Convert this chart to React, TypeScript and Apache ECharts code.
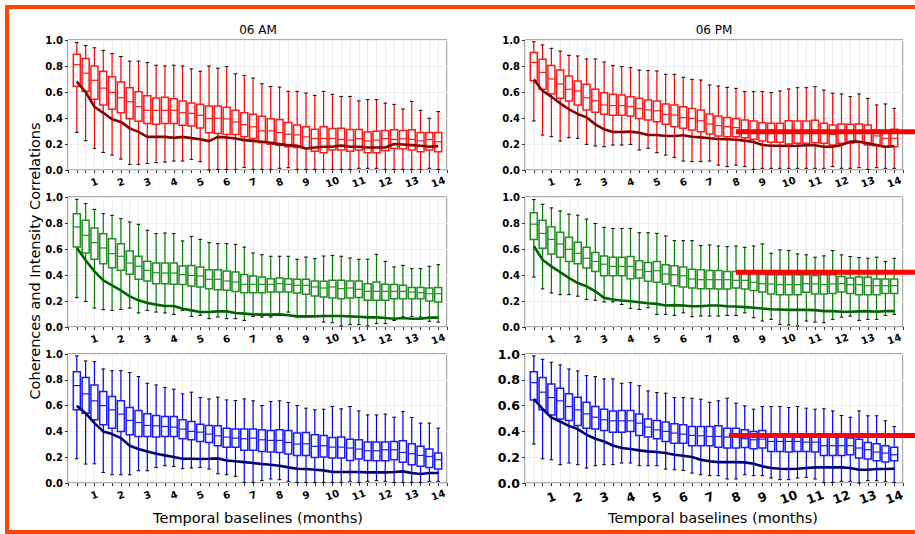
import React, { useEffect, useRef } from 'react';
import * as echarts from 'echarts';

// Box positions in thirds of a month (1 = 1/3 month ... 42 = 14 months)
const boxPositions: number[] = Array.from({ length: 42 }, (_, i) => i + 1);
const monthTickLabels = ['1', '2', '3', '4', '5', '6', '7', '8', '9', '10', '11', '12', '13', '14'];
const columnTitles = ['06 AM', '06 PM'];
const xAxisTitle = 'Temporal baselines (months)';
const yAxisTitle = 'Coherences and Intensity Correlations';

// [min, Q1, median, Q3, max]
const amRedBoxes = [
  [0.29, 0.645, 0.81, 0.89, 0.98], [0.225, 0.605, 0.745, 0.857, 0.957], [0.165, 0.545, 0.69, 0.80, 0.94],
  [0.135, 0.50, 0.63, 0.76, 0.92], [0.115, 0.467, 0.597, 0.717, 0.895], [0.084, 0.441, 0.556, 0.676, 0.873],
  [0.043, 0.395, 0.525, 0.633, 0.837], [0.043, 0.375, 0.487, 0.602, 0.837], [0.05, 0.357, 0.459, 0.571, 0.826],
  [0.056, 0.352, 0.459, 0.553, 0.806], [0.061, 0.357, 0.459, 0.559, 0.80], [0.069, 0.357, 0.459, 0.548, 0.806],
  [0.069, 0.344, 0.441, 0.53, 0.80], [0.082, 0.339, 0.436, 0.515, 0.778], [0.064, 0.324, 0.421, 0.505, 0.76],
  [0.0, 0.286, 0.395, 0.492, 0.80], [0.005, 0.281, 0.398, 0.492, 0.783], [0.005, 0.273, 0.393, 0.482, 0.796],
  [0.005, 0.273, 0.37, 0.459, 0.74], [0.02, 0.255, 0.349, 0.441, 0.727], [0.005, 0.242, 0.332, 0.428, 0.707],
  [0.005, 0.212, 0.301, 0.413, 0.663], [0.005, 0.199, 0.301, 0.395, 0.643], [0.013, 0.191, 0.288, 0.388, 0.638],
  [0.018, 0.179, 0.276, 0.365, 0.605], [0.005, 0.173, 0.27, 0.347, 0.605], [0.005, 0.166, 0.255, 0.332, 0.592],
  [0.005, 0.145, 0.242, 0.314, 0.574], [0.005, 0.133, 0.242, 0.332, 0.605], [0.005, 0.153, 0.242, 0.319, 0.582],
  [0.005, 0.153, 0.235, 0.321, 0.566], [0.005, 0.145, 0.23, 0.311, 0.566], [0.013, 0.153, 0.242, 0.311, 0.531],
  [0.013, 0.133, 0.224, 0.293, 0.541], [0.013, 0.133, 0.23, 0.298, 0.541], [0.005, 0.148, 0.242, 0.304, 0.515],
  [0.005, 0.166, 0.235, 0.309, 0.505], [0.005, 0.163, 0.24, 0.304, 0.469], [0.005, 0.153, 0.235, 0.309, 0.528],
  [0.005, 0.14, 0.224, 0.288, 0.459], [0.013, 0.153, 0.235, 0.288, 0.398], [0.005, 0.14, 0.217, 0.288, 0.449],
];
const amRedLine = [
  0.68, 0.60, 0.485, 0.44, 0.39, 0.37, 0.32, 0.293, 0.255, 0.255, 0.255, 0.247, 0.255, 0.245, 0.237, 0.222,
  0.255, 0.25, 0.242, 0.23, 0.224, 0.217, 0.209, 0.199, 0.191, 0.186, 0.166, 0.173, 0.179, 0.179, 0.189, 0.179,
  0.179, 0.173, 0.173, 0.173, 0.20, 0.196, 0.191, 0.186, 0.179, 0.184,
];

const pmRedBoxes = [
  [0.377, 0.687, 0.828, 0.903, 0.987], [0.269, 0.621, 0.751, 0.851, 0.962], [0.256, 0.585, 0.70, 0.803, 0.936],
  [0.223, 0.551, 0.662, 0.769, 0.915], [0.249, 0.531, 0.621, 0.723, 0.882], [0.244, 0.50, 0.608, 0.685, 0.877],
  [0.197, 0.462, 0.556, 0.659, 0.854], [0.185, 0.444, 0.533, 0.621, 0.854], [0.179, 0.428, 0.50, 0.595, 0.831],
  [0.192, 0.421, 0.495, 0.582, 0.803], [0.192, 0.421, 0.495, 0.577, 0.795], [0.197, 0.415, 0.487, 0.564, 0.787],
  [0.154, 0.397, 0.474, 0.551, 0.769], [0.167, 0.385, 0.462, 0.538, 0.764], [0.133, 0.372, 0.456, 0.531, 0.762],
  [0.115, 0.351, 0.428, 0.508, 0.736], [0.097, 0.333, 0.423, 0.50, 0.736], [0.069, 0.321, 0.403, 0.487, 0.713],
  [0.064, 0.308, 0.397, 0.474, 0.697], [0.064, 0.295, 0.379, 0.462, 0.692], [0.069, 0.277, 0.354, 0.431, 0.654],
  [0.038, 0.262, 0.341, 0.415, 0.646], [0.026, 0.256, 0.333, 0.403, 0.636], [0.038, 0.256, 0.326, 0.397, 0.628],
  [0.026, 0.249, 0.308, 0.385, 0.603], [0.005, 0.236, 0.295, 0.377, 0.603], [0.013, 0.223, 0.295, 0.364, 0.603],
  [0.013, 0.213, 0.308, 0.359, 0.595], [0.013, 0.213, 0.30, 0.359, 0.608], [0.013, 0.20, 0.30, 0.379, 0.623],
  [0.013, 0.205, 0.30, 0.377, 0.633], [0.013, 0.205, 0.30, 0.377, 0.633], [0.013, 0.21, 0.30, 0.382, 0.641],
  [0.013, 0.205, 0.282, 0.359, 0.615], [0.026, 0.192, 0.274, 0.346, 0.59], [0.013, 0.205, 0.287, 0.354, 0.585],
  [0.013, 0.205, 0.282, 0.351, 0.564], [0.018, 0.213, 0.295, 0.354, 0.585], [0.005, 0.192, 0.282, 0.346, 0.551],
  [0.018, 0.187, 0.262, 0.308, 0.50], [0.013, 0.179, 0.244, 0.303, 0.508], [0.013, 0.179, 0.244, 0.313, 0.474],
];
const pmRedLine = [
  0.697, 0.608, 0.564, 0.513, 0.467, 0.431, 0.405, 0.351, 0.313, 0.292, 0.292, 0.295, 0.287, 0.269, 0.269, 0.262,
  0.262, 0.267, 0.256, 0.251, 0.244, 0.238, 0.236, 0.233, 0.226, 0.215, 0.192, 0.187, 0.187, 0.185, 0.187, 0.19,
  0.19, 0.179, 0.179, 0.192, 0.218, 0.218, 0.205, 0.192, 0.179, 0.185,
];

const amGreenBoxes = [
  [0.226, 0.615, 0.769, 0.872, 0.982], [0.197, 0.569, 0.705, 0.821, 0.949], [0.146, 0.521, 0.649, 0.762, 0.905],
  [0.133, 0.487, 0.608, 0.718, 0.872], [0.128, 0.456, 0.564, 0.679, 0.859], [0.136, 0.436, 0.544, 0.641, 0.833],
  [0.146, 0.405, 0.492, 0.585, 0.808], [0.108, 0.367, 0.467, 0.544, 0.79], [0.128, 0.354, 0.436, 0.505, 0.744],
  [0.115, 0.333, 0.418, 0.492, 0.718], [0.108, 0.333, 0.415, 0.492, 0.723], [0.097, 0.328, 0.415, 0.492, 0.718],
  [0.128, 0.326, 0.403, 0.469, 0.662], [0.082, 0.315, 0.397, 0.474, 0.697], [0.09, 0.308, 0.392, 0.462, 0.674],
  [0.064, 0.295, 0.367, 0.441, 0.649], [0.077, 0.287, 0.367, 0.441, 0.641], [0.064, 0.282, 0.354, 0.431, 0.641],
  [0.064, 0.274, 0.346, 0.423, 0.636], [0.051, 0.264, 0.328, 0.403, 0.615], [0.082, 0.264, 0.328, 0.392, 0.569],
  [0.077, 0.264, 0.328, 0.385, 0.556], [0.077, 0.269, 0.328, 0.372, 0.544], [0.09, 0.269, 0.333, 0.377, 0.544],
  [0.115, 0.269, 0.328, 0.372, 0.544], [0.077, 0.262, 0.321, 0.367, 0.521], [0.077, 0.251, 0.321, 0.367, 0.538],
  [0.082, 0.238, 0.308, 0.354, 0.526], [0.038, 0.231, 0.30, 0.351, 0.546], [0.033, 0.223, 0.308, 0.359, 0.551],
  [0.008, 0.218, 0.295, 0.359, 0.544], [0.018, 0.223, 0.30, 0.354, 0.531], [0.018, 0.226, 0.29, 0.354, 0.521],
  [0.008, 0.205, 0.274, 0.333, 0.521], [0.026, 0.205, 0.274, 0.346, 0.559], [0.026, 0.205, 0.274, 0.328, 0.505],
  [0.051, 0.218, 0.274, 0.326, 0.462], [0.077, 0.218, 0.274, 0.321, 0.474], [0.082, 0.218, 0.269, 0.303, 0.449],
  [0.077, 0.218, 0.264, 0.303, 0.449], [0.044, 0.20, 0.256, 0.30, 0.467], [0.038, 0.192, 0.256, 0.303, 0.479],
];
const amGreenLine = [
  0.61, 0.513, 0.428, 0.359, 0.321, 0.282, 0.236, 0.205, 0.185, 0.172, 0.162, 0.162, 0.141, 0.128, 0.115, 0.115,
  0.12, 0.12, 0.108, 0.103, 0.097, 0.095, 0.095, 0.097, 0.09, 0.082, 0.082, 0.082, 0.085, 0.085, 0.085, 0.082,
  0.079, 0.074, 0.074, 0.069, 0.064, 0.069, 0.064, 0.064, 0.072, 0.072,
];

const pmGreenBoxes = [
  [0.384, 0.674, 0.791, 0.878, 0.98], [0.293, 0.606, 0.72, 0.822, 0.944], [0.262, 0.562, 0.674, 0.771, 0.916],
  [0.249, 0.537, 0.639, 0.728, 0.893], [0.249, 0.504, 0.598, 0.69, 0.868], [0.237, 0.486, 0.567, 0.651, 0.86],
  [0.211, 0.453, 0.529, 0.613, 0.83], [0.206, 0.427, 0.504, 0.573, 0.796], [0.193, 0.394, 0.483, 0.547, 0.766],
  [0.193, 0.394, 0.466, 0.537, 0.758], [0.173, 0.394, 0.466, 0.537, 0.758], [0.142, 0.372, 0.466, 0.542, 0.758],
  [0.135, 0.377, 0.44, 0.509, 0.725], [0.148, 0.351, 0.427, 0.496, 0.725], [0.097, 0.344, 0.433, 0.504, 0.72],
  [0.097, 0.331, 0.407, 0.478, 0.70], [0.089, 0.318, 0.402, 0.471, 0.664], [0.109, 0.308, 0.394, 0.461, 0.664],
  [0.079, 0.30, 0.369, 0.445, 0.664], [0.084, 0.295, 0.364, 0.44, 0.626], [0.084, 0.295, 0.364, 0.435, 0.631],
  [0.084, 0.293, 0.364, 0.435, 0.623], [0.089, 0.293, 0.364, 0.427, 0.618], [0.089, 0.30, 0.359, 0.427, 0.623],
  [0.109, 0.293, 0.359, 0.422, 0.613], [0.071, 0.28, 0.344, 0.415, 0.623], [0.046, 0.27, 0.333, 0.407, 0.639],
  [0.059, 0.254, 0.331, 0.402, 0.567], [0.02, 0.249, 0.326, 0.402, 0.593], [0.015, 0.249, 0.326, 0.402, 0.588],
  [0.008, 0.249, 0.326, 0.402, 0.562], [0.046, 0.267, 0.333, 0.402, 0.555], [0.038, 0.254, 0.331, 0.397, 0.537],
  [0.033, 0.254, 0.326, 0.402, 0.547], [0.059, 0.257, 0.331, 0.402, 0.588], [0.076, 0.27, 0.333, 0.389, 0.555],
  [0.084, 0.257, 0.326, 0.377, 0.542], [0.051, 0.249, 0.326, 0.384, 0.534], [0.059, 0.249, 0.318, 0.382, 0.529],
  [0.059, 0.249, 0.318, 0.369, 0.537], [0.089, 0.257, 0.318, 0.369, 0.504], [0.097, 0.257, 0.318, 0.369, 0.529],
];
const pmGreenLine = [
  0.623, 0.517, 0.466, 0.422, 0.377, 0.338, 0.313, 0.275, 0.224, 0.211, 0.204, 0.198, 0.191, 0.183, 0.178, 0.165,
  0.168, 0.165, 0.16, 0.16, 0.165, 0.165, 0.16, 0.158, 0.153, 0.148, 0.142, 0.137, 0.135, 0.132, 0.132, 0.132,
  0.13, 0.122, 0.122, 0.117, 0.117, 0.12, 0.122, 0.117, 0.122, 0.122,
];

const amBlueBoxes = [
  [0.188, 0.567, 0.755, 0.863, 0.985], [0.147, 0.541, 0.691, 0.817, 0.946], [0.149, 0.49, 0.637, 0.76, 0.941],
  [0.082, 0.451, 0.60, 0.709, 0.884], [0.064, 0.425, 0.567, 0.67, 0.871], [0.064, 0.40, 0.534, 0.637, 0.871],
  [0.064, 0.374, 0.485, 0.585, 0.856], [0.095, 0.361, 0.469, 0.562, 0.825], [0.095, 0.361, 0.446, 0.536, 0.773],
  [0.121, 0.356, 0.443, 0.523, 0.76], [0.134, 0.361, 0.438, 0.515, 0.74], [0.129, 0.361, 0.433, 0.515, 0.727],
  [0.111, 0.343, 0.418, 0.49, 0.691], [0.116, 0.335, 0.40, 0.477, 0.704], [0.121, 0.322, 0.394, 0.456, 0.662],
  [0.108, 0.314, 0.379, 0.446, 0.652], [0.072, 0.289, 0.366, 0.443, 0.665], [0.064, 0.278, 0.356, 0.425, 0.644],
  [0.052, 0.278, 0.348, 0.418, 0.639], [0.005, 0.253, 0.343, 0.418, 0.652], [0.005, 0.253, 0.348, 0.418, 0.637],
  [0.018, 0.245, 0.335, 0.412, 0.60], [0.031, 0.24, 0.33, 0.407, 0.631], [0.026, 0.237, 0.33, 0.412, 0.637],
  [0.013, 0.224, 0.314, 0.407, 0.624], [0.005, 0.214, 0.302, 0.387, 0.60], [0.005, 0.214, 0.304, 0.392, 0.58],
  [0.005, 0.198, 0.284, 0.374, 0.567], [0.005, 0.201, 0.289, 0.369, 0.572], [0.005, 0.193, 0.278, 0.353, 0.593],
  [0.005, 0.193, 0.278, 0.356, 0.575], [0.013, 0.175, 0.271, 0.34, 0.593], [0.005, 0.186, 0.263, 0.335, 0.559],
  [0.013, 0.175, 0.25, 0.317, 0.528], [0.018, 0.173, 0.25, 0.317, 0.528], [0.013, 0.173, 0.258, 0.317, 0.534],
  [0.005, 0.18, 0.258, 0.322, 0.51], [0.005, 0.16, 0.237, 0.327, 0.554], [0.005, 0.142, 0.227, 0.304, 0.508],
  [0.005, 0.129, 0.214, 0.284, 0.464], [0.013, 0.121, 0.206, 0.263, 0.464], [0.013, 0.108, 0.18, 0.232, 0.425],
];
const amBlueLine = [
  0.598, 0.541, 0.464, 0.40, 0.379, 0.348, 0.289, 0.263, 0.245, 0.227, 0.214, 0.201, 0.188, 0.188, 0.186, 0.188,
  0.191, 0.175, 0.168, 0.162, 0.155, 0.147, 0.142, 0.134, 0.121, 0.111, 0.108, 0.103, 0.098, 0.085, 0.085, 0.085,
  0.085, 0.082, 0.082, 0.082, 0.085, 0.09, 0.077, 0.07, 0.077, 0.077,
];

const pmBlueBoxes = [
  [0.302, 0.644, 0.778, 0.863, 0.985], [0.188, 0.567, 0.704, 0.817, 0.959], [0.18, 0.528, 0.662, 0.768, 0.936],
  [0.142, 0.497, 0.637, 0.735, 0.915], [0.155, 0.485, 0.593, 0.691, 0.884], [0.142, 0.446, 0.567, 0.665, 0.869],
  [0.116, 0.425, 0.536, 0.626, 0.832], [0.134, 0.418, 0.51, 0.593, 0.825], [0.142, 0.407, 0.49, 0.572, 0.807],
  [0.142, 0.394, 0.482, 0.559, 0.807], [0.155, 0.394, 0.482, 0.562, 0.773], [0.155, 0.40, 0.482, 0.562, 0.778],
  [0.134, 0.369, 0.464, 0.534, 0.755], [0.134, 0.356, 0.433, 0.497, 0.714], [0.134, 0.343, 0.412, 0.485, 0.701],
  [0.108, 0.322, 0.40, 0.472, 0.696], [0.103, 0.309, 0.387, 0.459, 0.662], [0.098, 0.309, 0.379, 0.451, 0.662],
  [0.077, 0.289, 0.369, 0.438, 0.657], [0.064, 0.289, 0.366, 0.438, 0.649], [0.057, 0.289, 0.361, 0.438, 0.626],
  [0.057, 0.278, 0.361, 0.443, 0.637], [0.031, 0.271, 0.356, 0.425, 0.657], [0.031, 0.271, 0.353, 0.425, 0.619],
  [0.064, 0.276, 0.343, 0.412, 0.598], [0.057, 0.265, 0.335, 0.40, 0.572], [0.057, 0.271, 0.34, 0.407, 0.593],
  [0.039, 0.245, 0.322, 0.379, 0.593], [0.026, 0.245, 0.322, 0.379, 0.593], [0.026, 0.24, 0.322, 0.379, 0.585],
  [0.039, 0.245, 0.322, 0.381, 0.593], [0.044, 0.245, 0.317, 0.379, 0.58], [0.031, 0.24, 0.317, 0.374, 0.572],
  [0.005, 0.214, 0.289, 0.361, 0.575], [0.005, 0.214, 0.289, 0.361, 0.559], [0.013, 0.214, 0.289, 0.361, 0.523],
  [0.013, 0.219, 0.289, 0.348, 0.51], [0.0, 0.193, 0.271, 0.34, 0.559], [0.018, 0.186, 0.258, 0.314, 0.521],
  [0.018, 0.173, 0.24, 0.304, 0.521], [0.013, 0.162, 0.232, 0.289, 0.482], [0.005, 0.173, 0.219, 0.278, 0.438],
];
const pmBlueLine = [
  0.652, 0.575, 0.508, 0.477, 0.443, 0.418, 0.374, 0.343, 0.322, 0.291, 0.271, 0.263, 0.253, 0.245, 0.24, 0.232,
  0.219, 0.211, 0.201, 0.18, 0.168, 0.162, 0.162, 0.162, 0.16, 0.149, 0.129, 0.116, 0.111, 0.108, 0.111, 0.116,
  0.121, 0.121, 0.121, 0.121, 0.116, 0.103, 0.103, 0.108, 0.108, 0.111,
];

// Red reference lines (panel index, start position in box units, value)
const refPanels = [1, 3, 5];
const refStarts = [24, 24, 23.2];
const refValues = [0.295, 0.422, 0.369];

const panelBoxes = [amRedBoxes, pmRedBoxes, amGreenBoxes, pmGreenBoxes, amBlueBoxes, pmBlueBoxes];
const panelLines = [amRedLine, pmRedLine, amGreenLine, pmGreenLine, amBlueLine, pmBlueLine];

const FONT = 'DejaVu Sans';
const gridRects = [
  { left: 68, top: 40, width: 379, height: 130 },
  { left: 525, top: 40, width: 378, height: 130 },
  { left: 68, top: 197, width: 379, height: 130 },
  { left: 525, top: 197, width: 378, height: 130 },
  { left: 68, top: 354, width: 379, height: 129 },
  { left: 525, top: 354, width: 378, height: 129 },
];
const boxColors = ['#ff1a1a', '#ff1a1a', '#1f8f1f', '#1f8f1f', '#1a1aff', '#1a1aff'];
const whiskerColors = ['#ff0000', '#ff0000', '#008000', '#008000', '#0000ff', '#0000ff'];
const lineColors = ['#8b0000', '#8b0000', '#006400', '#006400', '#00007a', '#00007a'];

function makeRenderItem(boxColor: string, whiskerColor: string) {
  return (params: any, api: any) => {
    const x = api.value(0);
    const lo = api.coord([x, api.value(1)]);
    const q1 = api.coord([x, api.value(2)]);
    const med = api.coord([x, api.value(3)]);
    const q3 = api.coord([x, api.value(4)]);
    const hi = api.coord([x, api.value(5)]);
    const cx = lo[0];
    const hw = 3.5;
    const cw = 1.8;
    return {
      type: 'group',
      children: [
        { type: 'line', shape: { x1: cx, y1: hi[1], x2: cx, y2: q3[1] }, style: { stroke: whiskerColor, lineWidth: 1.2 } },
        { type: 'line', shape: { x1: cx, y1: q1[1], x2: cx, y2: lo[1] }, style: { stroke: whiskerColor, lineWidth: 1.2 } },
        { type: 'line', shape: { x1: cx - cw, y1: hi[1], x2: cx + cw, y2: hi[1] }, style: { stroke: '#000', lineWidth: 1 } },
        { type: 'line', shape: { x1: cx - cw, y1: lo[1], x2: cx + cw, y2: lo[1] }, style: { stroke: '#000', lineWidth: 1 } },
        {
          type: 'rect',
          shape: { x: cx - hw, y: q3[1], width: hw * 2, height: q1[1] - q3[1] },
          style: { stroke: boxColor, fill: 'none', lineWidth: 1.5 },
        },
        { type: 'line', shape: { x1: cx - hw, y1: med[1], x2: cx + hw, y2: med[1] }, style: { stroke: boxColor, lineWidth: 1.2 } },
      ],
    };
  };
}

export default function App() {
  const ref = useRef<HTMLDivElement>(null);
  useEffect(() => {
    if (!ref.current) return;
    const chart = echarts.init(ref.current, null, { renderer: 'svg' });
    const grids = gridRects.map((g) => ({
      ...g,
      show: true,
      borderColor: '#555',
      borderWidth: 1,
      backgroundColor: 'transparent',
      containLabel: false,
      outerBoundsMode: 'none',
    }));
    const xAxes = gridRects.map((_, i) => {
      const big = i === 5;
      return {
        gridIndex: i,
        type: 'value',
        min: 0,
        max: 43,
        interval: 1,
        axisLine: { show: false },
        axisTick: { show: true, length: 3, lineStyle: { color: '#333', width: 1 } },
        axisLabel: {
          formatter: (v: number) => (v > 0 && v % 3 === 0 ? monthTickLabels[v / 3 - 1] || '' : ''),
          rotate: 20,
          align: 'center',
          verticalAlign: 'middle',
          margin: big ? 14 : 12,
          fontSize: big ? 12.5 : 10,
          fontWeight: 'bold',
          color: '#000',
          fontFamily: FONT,
        },
        splitLine: { show: true, lineStyle: { color: '#eeeeee', width: 1 } },
      };
    });
    const yAxes = gridRects.map((_, i) => {
      const big = i === 5;
      return {
        gridIndex: i,
        type: 'value',
        min: 0,
        max: 1,
        interval: 0.2,
        axisLine: { show: false },
        axisTick: { show: true, length: 3, lineStyle: { color: '#333', width: 1 } },
        axisLabel: {
          formatter: (v: number) => v.toFixed(1),
          margin: 5,
          fontSize: big ? 12.5 : 10,
          fontWeight: 'bold',
          color: '#000',
          fontFamily: FONT,
        },
        splitLine: { show: true, lineStyle: { color: '#eeeeee', width: 1 } },
      };
    });
    const series: any[] = [];
    panelBoxes.forEach((boxes, i) => {
      series.push({
        type: 'custom',
        xAxisIndex: i,
        yAxisIndex: i,
        renderItem: makeRenderItem(boxColors[i], whiskerColors[i]),
        encode: { x: 0, y: [1, 2, 3, 4, 5] },
        data: boxes.map((b, k) => [boxPositions[k], ...b]),
        z: 2,
      });
      series.push({
        type: 'line',
        xAxisIndex: i,
        yAxisIndex: i,
        showSymbol: false,
        symbol: 'none',
        lineStyle: { color: lineColors[i], width: 2.6 },
        data: panelLines[i].map((v, k) => [boxPositions[k], v]),
        z: 4,
      });
    });
    const baseGraphics: any[] = [
      {
        type: 'rect', id: 'frame', z: 100,
        shape: { x: 7, y: 7, width: 1000, height: 525 },
        style: { fill: 'none', stroke: '#ff4500', lineWidth: 4 },
      },
      {
        type: 'text', id: 't0', x: 258, y: 30,
        style: { text: columnTitles[0], textAlign: 'center', textVerticalAlign: 'middle', font: `12px "${FONT}"`, fill: '#000' },
      },
      {
        type: 'text', id: 't1', x: 714, y: 30,
        style: { text: columnTitles[1], textAlign: 'center', textVerticalAlign: 'middle', font: `12px "${FONT}"`, fill: '#000' },
      },
      {
        type: 'text', id: 'x0', x: 258, y: 518,
        style: { text: xAxisTitle, textAlign: 'center', textVerticalAlign: 'middle', font: `14.5px "${FONT}"`, fill: '#000' },
      },
      {
        type: 'text', id: 'x1', x: 713, y: 518,
        style: { text: xAxisTitle, textAlign: 'center', textVerticalAlign: 'middle', font: `14.5px "${FONT}"`, fill: '#000' },
      },
      {
        type: 'text', id: 'y0', x: 35, y: 261, rotation: Math.PI / 2,
        style: { text: yAxisTitle, textAlign: 'center', textVerticalAlign: 'middle', font: `14.5px "${FONT}"`, fill: '#000' },
      },
    ];
    chart.setOption({
      animation: false,
      textStyle: { fontFamily: FONT },
      grid: grids,
      xAxis: xAxes,
      yAxis: yAxes,
      series,
      graphic: { elements: baseGraphics },
    });
    const refGraphics = refPanels.map((p, k) => {
      const pt = chart.convertToPixel({ gridIndex: p } as any, [refStarts[k], refValues[k]]) as number[];
      return {
        type: 'rect', id: 'ref' + k, z: 50,
        shape: { x: pt[0], y: pt[1] - 2.5, width: 930 - pt[0], height: 5 },
        style: { fill: '#ff0000' },
      };
    });
    chart.setOption({ graphic: { elements: [...baseGraphics, ...refGraphics] } });
    return () => chart.dispose();
  }, []);
  return (
    <div
      ref={ref}
      style={{ position: 'fixed', left: 0, top: 0, width: 915, height: 534, background: '#fff' }}
    />
  );
}
